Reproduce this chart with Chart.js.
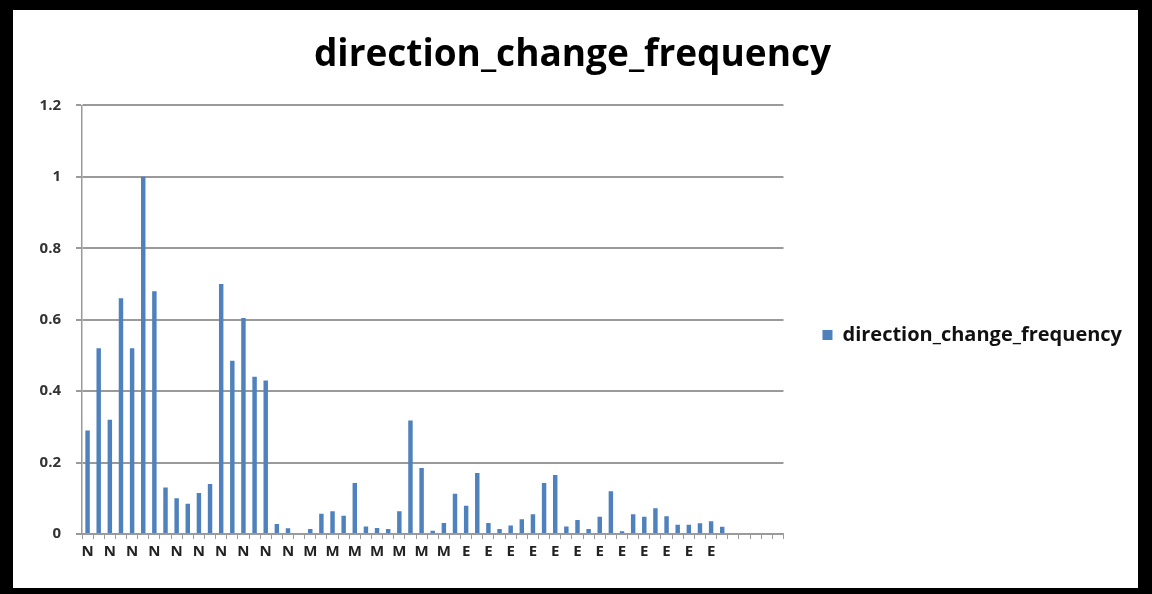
<!DOCTYPE html>
<html>
<head>
<meta charset="utf-8">
<script src="https://cdn.jsdelivr.net/npm/chart.js@4.4.1/dist/chart.umd.min.js"></script>
<style>
  html, body { margin: 0; padding: 0; background: #000; }
  body { width: 1152px; height: 594px; position: relative; overflow: hidden; }
  #panel { position: absolute; left: 13px; top: 10px; width: 1125px; height: 578px; background: #fff; }
  canvas { display: block; }
</style>
</head>
<body>
<div id="panel"><canvas id="chart" width="1125" height="578"></canvas></div>
<script>
const seriesName = 'direction_change_frequency';
// values per group, in x-axis order
const nValues = [0.29, 0.52, 0.32, 0.66, 0.52, 1.0, 0.68, 0.13, 0.10, 0.085, 0.115, 0.14, 0.70, 0.485, 0.605, 0.44, 0.43, 0.028, 0.016, 0];
const mValues = [0.014, 0.057, 0.064, 0.051, 0.143, 0.021, 0.017, 0.014, 0.064, 0.318, 0.185, 0.009, 0.031, 0.113];
const eValues = [0.079, 0.171, 0.031, 0.014, 0.024, 0.041, 0.055, 0.143, 0.165, 0.021, 0.039, 0.014, 0.048, 0.12, 0.008, 0.055, 0.048, 0.072, 0.05, 0.026, 0.026, 0.03, 0.036, 0.02];
const emptySlots = 5;
const yTicks = [0, 0.2, 0.4, 0.6, 0.8, 1, 1.2];

const FONT = '"Open Sans", Lato, sans-serif';
const GRID = '#9a9a9a';

const labels = [
  ...nValues.map(() => 'N'),
  ...mValues.map(() => 'M'),
  ...eValues.map(() => 'E'),
  ...Array(emptySlots).fill('')
];
const values = [...nValues, ...mValues, ...eValues, ...Array(emptySlots).fill(null)];

function drawChart() {
  new Chart(document.getElementById('chart'), {
    type: 'bar',
    data: {
      labels,
      datasets: [{
        label: seriesName,
        data: values,
        backgroundColor: '#4f81bd',
        borderWidth: 0,
        barPercentage: 0.4,
        categoryPercentage: 1
      }]
    },
    options: {
      responsive: false,
      animation: false,
      // top padding moves the (full height) legend down; title padding pulls the title back up
      layout: { padding: { left: 0, right: 6, top: 72, bottom: 0 } },
      plugins: {
        title: {
          display: true,
          text: seriesName,
          color: '#000',
          font: { family: FONT, size: 37, weight: 'bold' },
          padding: { top: -49, bottom: 28 }
        },
        legend: {
          position: 'right',
          maxWidth: 400, // otherwise layout caps it at a quarter of the width
          labels: {
            boxWidth: 10, boxHeight: 10, padding: 39,
            color: '#111',
            font: { family: FONT, size: 20, weight: 'bold' }
          }
        },
        tooltip: { enabled: false }
      },
      scales: {
        x: {
          offset: true,
          afterFit: s => { s.height = 54; },
          grid: { offset: true, drawOnChartArea: false, drawTicks: true, tickLength: 5, color: GRID },
          border: { color: GRID, width: 1.5 },
          ticks: {
            autoSkip: false, maxRotation: 0, padding: 4, color: '#222',
            font: { family: FONT, size: 15, weight: 'bold' },
            callback: (v, i) => (i % 2 === 0 ? labels[i] : '')
          }
        },
        y: {
          min: yTicks[0],
          max: yTicks[yTicks.length - 1],
          afterFit: s => { s.width = 69; },
          afterBuildTicks: s => { s.ticks = yTicks.map(v => ({ value: v })); },
          grid: { color: GRID, lineWidth: 2, tickLength: 6 },
          border: { color: GRID, width: 1.5 },
          ticks: {
            padding: 15, color: '#333',
            font: { family: FONT, size: 15, weight: 'bold' },
            callback: v => String(+v.toFixed(1))
          }
        }
      }
    }
  });
}

Promise.all([
  document.fonts.load('bold 20px "Open Sans"'),
  document.fonts.load('bold 37px "Open Sans"'),
  document.fonts.load('bold 15px "Open Sans"')
]).then(drawChart, drawChart);
</script>
</body>
</html>
